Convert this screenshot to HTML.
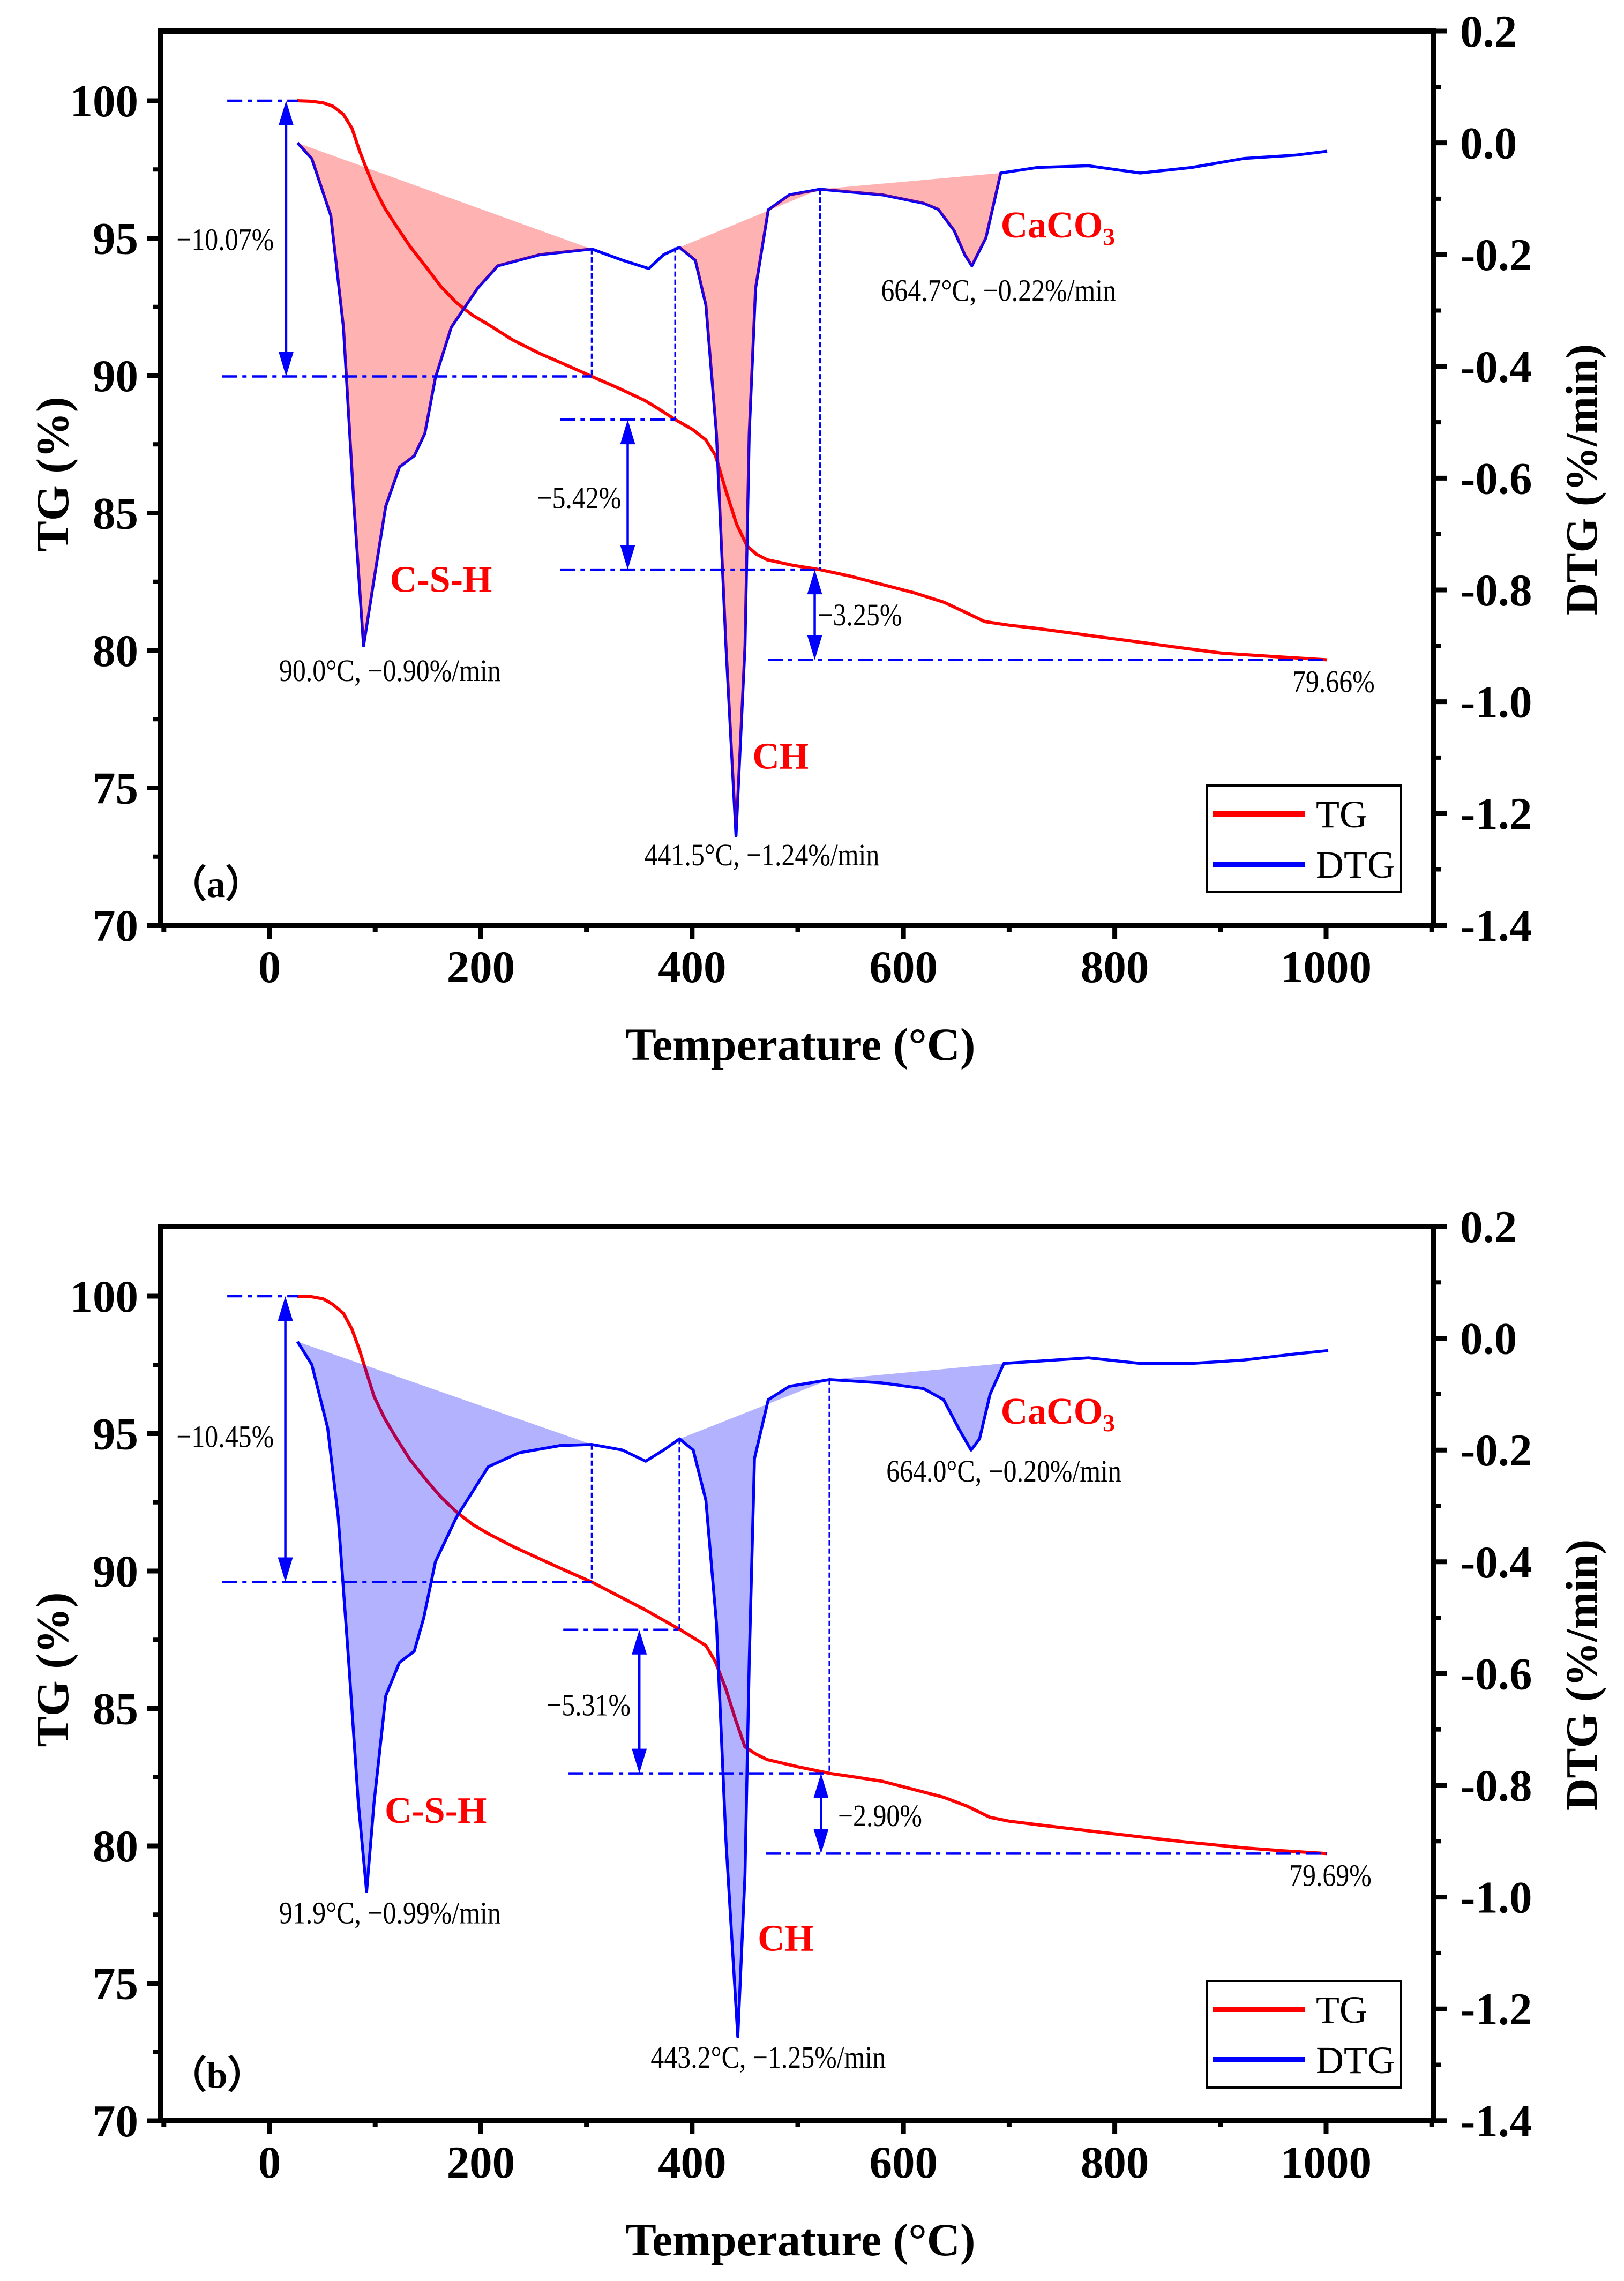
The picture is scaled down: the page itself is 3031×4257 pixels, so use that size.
<!DOCTYPE html>
<html><head><meta charset="utf-8"><style>
html,body{margin:0;padding:0;background:#fff;}
svg{display:block;}
text{font-family:"Liberation Serif","Times New Roman",serif;}
</style></head>
<body>
<svg id="chart" width="3031" height="4257" viewBox="0 0 3031 4257" xmlns="http://www.w3.org/2000/svg"></svg>
<script>
// ---- Data (panel a) ----
const tgA_T = [26,40,51,60,70,78,85,92,99,109,119,133,148,162,177,192,207,230,256,280,305,330,355,370,384,400,413,422,432,442,452,461,471,495,521,550,580,610,638,658,677,700,727,775,824,862,902,950,1001];
const tgA_V = [100,99.98,99.92,99.8,99.5,99.0,98.2,97.5,96.85,96.1,95.5,94.7,93.96,93.25,92.65,92.2,91.86,91.3,90.8,90.4,89.97,89.55,89.1,88.75,88.4,88.05,87.66,87.1,85.8,84.6,83.8,83.5,83.3,83.1,82.94,82.7,82.4,82.1,81.76,81.4,81.05,80.92,80.8,80.55,80.3,80.1,79.9,79.78,79.66];
const dtgA_T = [26.5,40,58,70,80,89,99,110,123,137,147,157,172,197,216,256,305,334,359,373,388,403,413,423,432,441.5,450,454,460,472,492,521,580,619,633,648,658,664.7,678,692,727,775,824,873,922,971,1001];
const dtgA_V = [0,-0.028,-0.13,-0.33,-0.65,-0.90,-0.78,-0.65,-0.58,-0.56,-0.52,-0.42,-0.33,-0.26,-0.22,-0.20,-0.19,-0.21,-0.225,-0.20,-0.187,-0.21,-0.29,-0.52,-0.90,-1.24,-0.90,-0.52,-0.26,-0.12,-0.093,-0.083,-0.093,-0.108,-0.119,-0.157,-0.20,-0.22,-0.17,-0.054,-0.044,-0.041,-0.054,-0.044,-0.028,-0.022,-0.015];
// ---- Data (panel b) ----
const tgB_T = [26,40,51,60,70,78,85,92,99,109,119,133,148,162,177,192,207,230,256,280,305,330,355,372,389,400,413,422,432,441,450,460,471,500,530,555,580,610,638,660,682,700,727,775,824,870,922,960,1001];
const tgB_V = [100,99.98,99.9,99.7,99.37,98.8,98.06,97.2,96.35,95.55,94.9,94.05,93.33,92.7,92.15,91.7,91.36,90.9,90.44,90.02,89.6,89.1,88.6,88.23,87.86,87.6,87.29,86.7,85.7,84.6,83.6,83.35,83.14,82.88,82.64,82.5,82.35,82.05,81.77,81.45,81.04,80.9,80.77,80.55,80.33,80.13,79.93,79.82,79.72];
const dtgB_T = [26.5,40,55,65,75,84,91.9,99,110,123,137,146,157,177,207,236,275,305,334,356,373,388,401,413,423,432,443.2,450,454,459,472,492,530,580,619,638,653,664,672,682,695,727,775,824,873,922,971,1002];
const dtgB_V = [-0.006,-0.047,-0.16,-0.32,-0.58,-0.83,-0.99,-0.83,-0.64,-0.58,-0.56,-0.50,-0.40,-0.32,-0.23,-0.205,-0.192,-0.19,-0.20,-0.22,-0.20,-0.18,-0.20,-0.29,-0.51,-0.90,-1.25,-0.96,-0.58,-0.215,-0.11,-0.086,-0.074,-0.08,-0.09,-0.11,-0.164,-0.20,-0.18,-0.10,-0.045,-0.041,-0.035,-0.045,-0.045,-0.039,-0.028,-0.022];
const xTicks = [0,200,400,600,800,1000];
const tgTicks = [70,75,80,85,90,95,100];
const dtgTicks = [-1.4,-1.2,-1.0,-0.8,-0.6,-0.4,-0.2,0.0,0.2];

const NS="http://www.w3.org/2000/svg";
const svg=document.getElementById('chart');
function el(tag,attrs,parent){const e=document.createElementNS(NS,tag);for(const k in attrs)e.setAttribute(k,attrs[k]);(parent||svg).appendChild(e);return e;}

const X=t=>503+t*1.972;
const L=300, R=2676;

function panel(off, tgT, tgV, dtgT, dtgV, fillCol, fillOver, regions, ann, tag){
  const Yt=v=>188+off+(100-v)*51.3;
  const Yd=v=>266.6+off-v*1043;
  const top=58+off, bot=1727+off;
  const g=el('g',{});
  
  
  xTicks.forEach(t=>{
    const tk=el('line',{x1:X(t),x2:X(t),y1:bot,y2:bot+25,stroke:'#000','stroke-width':9},g);
    
    
    const lb=el('text',{x:X(t),y:bot+106,'font-size':85,'font-weight':'bold','text-anchor':'middle'},g);
    lb.textContent=t;
    
    
  });
  for(let t=-100;t<=1100;t+=200){el('line',{x1:X(t),x2:X(t),y1:bot,y2:bot+12,stroke:'#000','stroke-width':9},g);}
  tgTicks.forEach(v=>{
    el('line',{x1:L-25,x2:L,y1:Yt(v),y2:Yt(v),stroke:'#000','stroke-width':9},g);
    const lb=el('text',{x:258,y:Yt(v)+29,'font-size':85,'font-weight':'bold','text-anchor':'end'},g);
    lb.textContent=v;
    
    
    if(v<100) el('line',{x1:L-14,x2:L,y1:Yt(v+2.5),y2:Yt(v+2.5),stroke:'#000','stroke-width':8},g);
  });
  dtgTicks.forEach(v=>{
    el('line',{x1:R,x2:R+25,y1:Yd(v),y2:Yd(v),stroke:'#000','stroke-width':9},g);
    const lb=el('text',{x:2725,y:Yd(v)+29,'font-size':85,'font-weight':'bold'},g);
    lb.textContent=(v<0?'-':'')+Math.abs(v).toFixed(1);
    
    
    if(v<0.15) el('line',{x1:R,x2:R+14,y1:Yd(v+0.1),y2:Yd(v+0.1),stroke:'#000','stroke-width':8},g);
  });
  let t1=el('text',{x:0,y:0,'font-size':86,'font-weight':'bold','text-anchor':'middle',transform:`translate(1494,${1978+off})`},g);
  t1.textContent='Temperature (°C)';
  
  
  let t2=el('text',{x:0,y:0,'font-size':86,'font-weight':'bold','text-anchor':'middle',transform:`translate(127,${885+off}) rotate(-90)`},g);
  t2.textContent='TG (%)';
  
  
  let t3=el('text',{x:0,y:0,'font-size':84,'font-weight':'bold','text-anchor':'middle',transform:`translate(2980,${895+off}) rotate(-90)`},g);
  t3.textContent='DTG (%/min)';
  
  

  function fillPoly(){
    const fg=el('g',{},g);
    regions.forEach(([a,b])=>{
      const va=interp(dtgT,dtgV,a), vb=interp(dtgT,dtgV,b);
      let pts=[[X(a),Yd(va)]];
      dtgT.forEach((t,i)=>{if(t>a&&t<b)pts.push([X(t),Yd(dtgV[i])]);});
      pts.push([X(b),Yd(vb)]);
      const p=el('polygon',{points:pts.map(p=>p.join(',')).join(' '),fill:fillCol},fg);
      
      
    });
  }
  const tgPath=el('polyline',{points:tgT.map((t,i)=>X(t)+','+Yt(tgV[i])).join(' '),fill:'none',stroke:'#ff0000','stroke-width':6,'stroke-linejoin':'round'},g);
  
  
  if(!fillOver) fillPoly();
  const dPath=el('polyline',{points:dtgT.map((t,i)=>X(t)+','+Yd(dtgV[i])).join(' '),fill:'none',stroke:'#0000ff','stroke-width':5.5,'stroke-linejoin':'round'},g);
  
  
  if(fillOver) fillPoly();

  const dd={stroke:'#0000ff','stroke-width':4.5,'stroke-dasharray':'28 10 8 10',fill:'none'};
  const vd={stroke:'#0000ff','stroke-width':3.5,'stroke-dasharray':'10 5',fill:'none'};
  function hline(t1,t2,v){const l=el('line',Object.assign({x1:X(t1),x2:X(t2),y1:Yt(v),y2:Yt(v)},dd),g);}
  function vline(t,d,v){const l=el('line',Object.assign({x1:X(t),x2:X(t),y1:Yd(d),y2:Yt(v)},vd),g);}
  function arrow(t,v1,v2){
    const x=X(t),y1=Yt(v1),y2=Yt(v2);
    const a=el('g',{},g);
    
    
    el('line',{x1:x,x2:x,y1:y1+40,y2:y2-40,stroke:'#0000ff','stroke-width':4.5},a);
    el('polygon',{points:`${x},${y1} ${x-14},${y1+46} ${x+14},${y1+46}`,fill:'#0000ff'},a);
    el('polygon',{points:`${x},${y2} ${x-14},${y2-46} ${x+14},${y2-46}`,fill:'#0000ff'},a);
  }
  ann.h.forEach(h=>hline(...h));
  ann.v.forEach(v=>vline(...v));
  ann.a.forEach(a=>arrow(...a));
  ann.txt.forEach(([s,t,v,anchor,size,bold,color,name])=>{
    const e=el('text',{x:0,y:0,'font-size':size,'font-weight':bold?'bold':'normal',fill:color,'text-anchor':anchor,transform:`translate(${X(t)},${Yt(v)+size*0.34}) scale(${bold?1:0.86},1)`},g);
    if(s==='CaCO3'){e.textContent='CaCO';const sub=el('tspan',{'font-size':size*0.65,dy:14},e);sub.textContent='3';}
    else e.textContent=s;
    
    
  });

  const fr=el('rect',{x:L,y:top,width:R-L,height:bot-top,fill:'none',stroke:'#000','stroke-width':10},g);
  
  
  const lg=el('g',{},g);
  
  
  el('rect',{x:2252,y:1466+off,width:363,height:199,fill:'#fff',stroke:'#000','stroke-width':4},lg);
  el('line',{x1:2264,x2:2435,y1:1519+off,y2:1519+off,stroke:'#ff0000','stroke-width':10},lg);
  el('line',{x1:2264,x2:2435,y1:1613+off,y2:1613+off,stroke:'#0000ff','stroke-width':10},lg);
  let e1=el('text',{x:2456,y:1544+off,'font-size':72},lg);e1.textContent='TG';
  
  
  let e2=el('text',{x:2456,y:1638+off,'font-size':72},lg);e2.textContent='DTG';
  
  
}
function interp(T,V,t){for(let i=1;i<T.length;i++){if(t<=T[i]){const f=(t-T[i-1])/(T[i]-T[i-1]);return V[i-1]+f*(V[i]-V[i-1]);}}return V[V.length-1];}

panel(0,tgA_T,tgA_V,dtgA_T,dtgA_V,'rgba(255,0,0,0.3)',true,[[26.5,305],[388,521],[521,692]],{
  h:[[-40,27,100],[-45,305,89.97],[275,384,88.4],[275,521,82.94],[471.6,1001,79.66]],
  v:[[305,-0.19,89.97],[384,-0.187,88.4],[521,-0.083,82.94]],
  a:[[15.7,100,89.97],[339,88.4,82.94],[516,82.94,79.66]],
  txt:[['C-S-H',114,82.6,'start',70,true,'#ff0000','label-csh'],
       ['90.0°C, −0.90%/min',114,79.27,'middle',58,false,'#000','peak-label-csh'],
       ['CH',457,76.17,'start',70,true,'#ff0000','label-ch'],
       ['441.5°C, −1.24%/min',466,72.57,'middle',58,false,'#000','peak-label-ch'],
       ['CaCO3',692,95.49,'start',70,true,'#ff0000','label-caco3'],
       ['664.7°C, −0.22%/min',690,93.1,'middle',58,false,'#000','peak-label-caco3'],
       ['−10.07%',-42,94.96,'middle',58,false,'#000','mass-loss-label-1'],
       ['−5.42%',293,85.56,'middle',58,false,'#000','mass-loss-label-2'],
       ['−3.25%',519,81.3,'start',58,false,'#000','mass-loss-label-3'],
       ['79.66%',1007,78.87,'middle',58,false,'#000','residual-mass-label'],
       ['（a）',-95,71.5,'start',70,true,'#000','panel-label-a']]
},'a');

panel(2231,tgB_T,tgB_V,dtgB_T,dtgB_V,'rgba(0,0,255,0.3)',false,[[26.5,305],[388,530],[530,695]],{
  h:[[-40,27,100],[-45,305,89.6],[278,388,87.86],[283,530,82.64],[469.6,1001,79.72]],
  v:[[305,-0.19,89.6],[388,-0.18,87.86],[530,-0.074,82.64]],
  a:[[15,100,89.6],[350,87.86,82.64],[522,82.64,79.72]],
  txt:[['C-S-H',109,81.3,'start',70,true,'#ff0000','label-csh'],
       ['91.9°C, −0.99%/min',114,77.57,'middle',58,false,'#000','peak-label-csh'],
       ['CH',462,76.65,'start',70,true,'#ff0000','label-ch'],
       ['443.2°C, −1.25%/min',472,72.31,'middle',58,false,'#000','peak-label-ch'],
       ['CaCO3',692,95.82,'start',70,true,'#ff0000','label-caco3'],
       ['664.0°C, −0.20%/min',695,93.64,'middle',58,false,'#000','peak-label-caco3'],
       ['−10.45%',-42,94.9,'middle',58,false,'#000','mass-loss-label-1'],
       ['−5.31%',302,85.13,'middle',58,false,'#000','mass-loss-label-2'],
       ['−2.90%',538,81.11,'start',58,false,'#000','mass-loss-label-3'],
       ['79.69%',1004,78.93,'middle',58,false,'#000','residual-mass-label'],
       ['（b）',-95,71.66,'start',70,true,'#000','panel-label-b']]
},'b');
</script>
</body></html>
